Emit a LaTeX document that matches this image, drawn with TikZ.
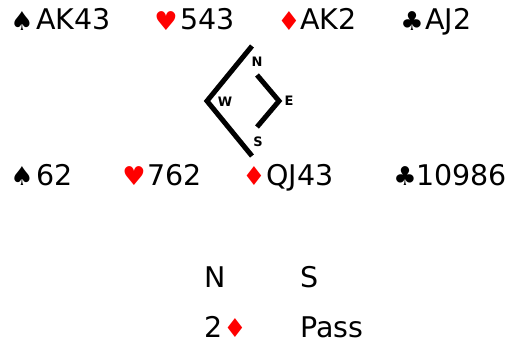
\documentclass[tikz,border=0pt]{standalone}
\usepackage{fontspec}
\setmainfont{DejaVu Sans}
\begin{document}
\begin{tikzpicture}[x=1pt,y=-1pt,
  txt/.style={inner sep=0pt,anchor=base west,font=\fontsize{28.5}{30}\selectfont},
  suit/.style={inner sep=0pt,anchor=center,font=\fontsize{26}{28}\selectfont},
  redsuit/.style={suit,text=red},
  lbl/.style={inner sep=0pt,font=\bfseries\fontsize{13}{13}\selectfont},
  compass/.style={line width=5pt,line join=miter}]
\useasboundingbox (0,0) rectangle (512,345);
% top row
\node[suit] (s1) at (22,21) {♠};
\node[txt] (t1) at (36,30) {AK43};
\node[redsuit] (h1) at (166,21) {♥};
\node[txt] (t2) at (180,30) {543};
\node[redsuit] (d1) at (289,21) {♦};
\node[txt] (t3) at (300,30) {AK2};
\node[suit] (c1) at (412,21) {♣};
\node[txt] (t4) at (425,30) {AJ2};
% second row
\node[suit] (s2) at (22,176) {♠};
\node[txt] (u1) at (36,185) {62};
\node[redsuit] (h2) at (134,176) {♥};
\node[txt] (u2) at (147,185) {762};
\node[redsuit] (d2) at (254,176) {♦};
\node[txt] (u3) at (266,185) {QJ43};
\node[suit] (c2) at (405,176) {♣};
\node[txt] (u4) at (416,185) {10986};
% compass
\coordinate (a1) at (252,46);
\coordinate (a2) at (207,101);
\coordinate (a3) at (252,156);
\coordinate (b1) at (257,75);
\coordinate (b2) at (279,101);
\coordinate (b3) at (257,127);
\draw[compass] (a1) -- (a2) -- (a3);
\draw[compass] (b1) -- (b2) -- (b3);
\node[lbl] (nN) at (257,62) {N};
\node[lbl] (nW) at (225,102) {W};
\node[lbl] (nE) at (289,101) {E};
\node[lbl] (nS) at (258,142) {S};
% bidding
\node[txt] (bN) at (204,287) {N};
\node[txt] (bS) at (300,287) {S};
\node[txt] (b2n) at (204,337) {2};
\node[redsuit] (b2d) at (235,328) {♦};
\node[txt] (bP) at (300,337) {Pass};
\end{tikzpicture}
\end{document}
